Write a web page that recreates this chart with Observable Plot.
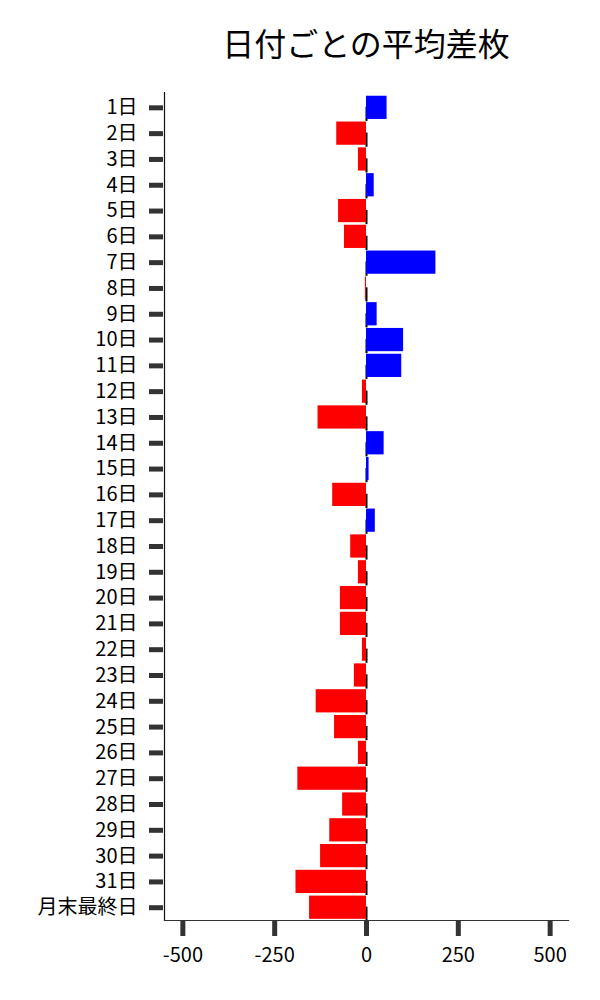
<!DOCTYPE html>
<html>
<head>
<meta charset="utf-8">
<script src="https://cdn.jsdelivr.net/npm/d3@7"></script>
<script src="https://cdn.jsdelivr.net/npm/@observablehq/plot@0.6"></script>
<style>
  html, body { margin: 0; padding: 0; background: #fff; }
  body { width: 600px; font-family: "Noto Sans CJK JP", "Noto Sans", sans-serif; }
  #title { box-sizing: border-box; height: 80px; padding-top: 26px; padding-left: 132px; text-align: center; font-size: 32px; line-height: 32px; color: #000; }
</style>
</head>
<body>
<div id="title">日付ごとの平均差枚</div>
<div id="chart"></div>
<script>
const days = ["1日","2日","3日","4日","5日","6日","7日","8日","9日","10日","11日","12日","13日","14日","15日","16日","17日","18日","19日","20日","21日","22日","23日","24日","25日","26日","27日","28日","29日","30日","31日","月末最終日"];
const diffs = [56,-81,-22,21,-76,-60,189,-3,29,101,96,-11,-132,48,7,-92,24,-43,-22,-71,-71,-11,-33,-137,-87,-22,-187,-65,-100,-125,-192,-155];
const xTicks = [-500,-250,0,250,500];

const data = days.map((d, i) => ({day: d, value: diffs[i]}));

const chart = Plot.plot({
  width: 600,
  height: 920,
  marginTop: 12,
  marginBottom: 80,
  marginLeft: 164,
  marginRight: 32,
  style: {fontFamily: "'Noto Sans CJK JP', 'Noto Sans', sans-serif", background: "#fff", color: "#000"},
  x: {domain: [-550, 550]},
  y: {domain: days, paddingInner: 0.1, paddingOuter: 0.095, align: 0.76, round: false},
  marks: [
    Plot.tickX(data, {x: () => 0, y: "day", stroke: "#000", strokeWidth: 2, insetTop: 9, dy: 2}),
    Plot.barX(data, {x: "value", y: "day", fill: d => d.value >= 0 ? "#0000ff" : "#ff0000"}),
    Plot.frame({anchor: "left", stroke: "#111", strokeWidth: 1.2}),
    Plot.frame({anchor: "bottom", stroke: "#333", strokeWidth: 1.2}),
    Plot.axisY({tickSize: 14, tickPadding: 12, dx: -1, fontSize: 20, stroke: "#333", strokeWidth: 5, fill: "#000", label: null}),
    Plot.axisX({ticks: xTicks, tickFormat: d => String(d), tickSize: 15, tickPadding: 11, dy: 1, fontSize: 20, stroke: "#333", strokeWidth: 5, fill: "#000", label: null})
  ]
});
document.getElementById("chart").appendChild(chart);
</script>
</body>
</html>
